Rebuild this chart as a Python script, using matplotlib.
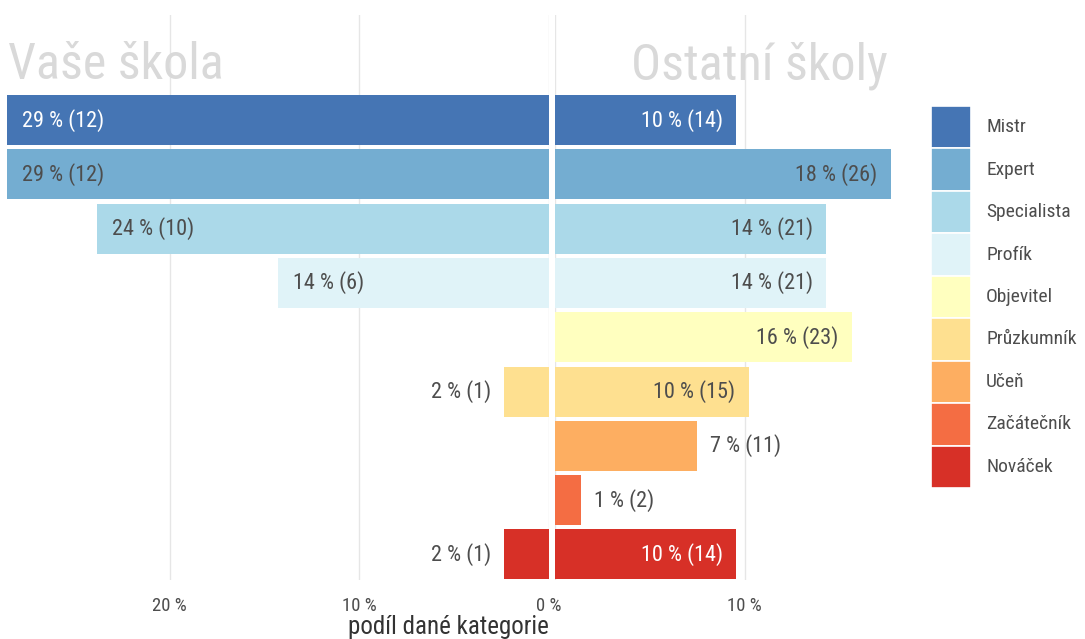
import matplotlib
matplotlib.use("Agg")
import matplotlib.pyplot as plt
from matplotlib import font_manager

names = {f.name for f in font_manager.fontManager.ttflist}
cands = ['Ubuntu Condensed', 'Roboto Condensed', 'Open Sans Condensed',
         'Liberation Sans Narrow', 'Liberation Sans']
MAIN = next(c for c in cands if c in names) if any(c in names for c in cands) else 'DejaVu Sans'
plt.rcParams['font.family'] = [MAIN, 'DejaVu Sans']

categories = ["Mistr", "Expert", "Specialista", "Profík", "Objevitel",
              "Průzkumník", "Učeň", "Začátečník", "Nováček"]
colors = ["#4575b4", "#74add1", "#abd9e9", "#e0f3f8", "#ffffbf",
          "#fee090", "#fdae61", "#f46d43", "#d73027"]
own_counts = [12, 12, 10, 6, 0, 1, 0, 0, 1]
other_counts = [14, 26, 21, 21, 23, 15, 11, 2, 14]
panel_titles = ["Vaše škola", "Ostatní školy"]
xlabel = "podíl dané kategorie"

W, H = 1085, 639
fig = plt.figure(figsize=(W / 100, H / 100), dpi=100)

def px_axes(x0, x1, ytop, ybot):
    return fig.add_axes([x0 / W, (H - ybot) / H, (x1 - x0) / W, (ybot - ytop) / H])

PXP = 18.97  # pixels per percent
axL = px_axes(5, 549, 15, 580)
axR = px_axes(555, 895, 15, 580)
axL.set_xlim(544 / PXP, 0)
axR.set_xlim(0, 340 / PXP)

dark = "#4d4d4d"
white_idx = {0, 8}
LFS = 16

def pct(counts):
    t = sum(counts)
    return [100 * c / t for c in counts]

for ax, counts, side in ((axL, own_counts, "L"), (axR, other_counts, "R")):
    vals = pct(counts)
    ax.set_ylim(8.47, -1.934)
    for sp in ax.spines.values():
        sp.set_visible(False)
    ax.set_yticks([])
    ax.tick_params(axis='x', length=0, labelsize=13.5, labelcolor=dark, pad=12)
    ax.set_axisbelow(True)
    ax.grid(axis='x', color="#e6e6e6", linewidth=1)
    for i, (c, v, n) in enumerate(zip(colors, vals, counts)):
        if n == 0:
            continue
        ax.barh(i, v, height=0.92, color=c, linewidth=0)
        lab = f"{round(v)} % ({n})"
        pad = 13 / PXP
        if side == "L":
            if v >= 12:
                ax.text(v - 15 / PXP, i, lab, ha='left', va='center', fontsize=LFS,
                        color="white" if i in white_idx else dark)
            else:
                ax.text(v + pad, i, lab, ha='right', va='center', fontsize=LFS, color=dark)
        else:
            if v >= 9:
                ax.text(v - pad, i, lab, ha='right', va='center', fontsize=LFS,
                        color="white" if i in white_idx else dark)
            else:
                ax.text(v + pad, i, lab, ha='left', va='center', fontsize=LFS, color=dark)

axL.set_xticks([20, 10, 0])
axL.set_xticklabels(["20 %", "10 %", "0 %"])
axR.set_xticks([0, 10])
axR.set_xticklabels(["", "10 %"])

fig.text(8 / W, (H - 79) / H, panel_titles[0], ha='left', va='baseline',
         fontsize=36, color="#d9d9d9")
fig.text(888 / W, (H - 79) / H, panel_titles[1], ha='right', va='baseline',
         fontsize=36, color="#d9d9d9")
fig.text(448 / W, (H - 627) / H, xlabel, ha='center', va='center',
         fontsize=18, color="#333333")

# legend drawn as a small axes of stacked keys
axLeg = px_axes(931, 1085, 106, 488)
axLeg.set_xlim(0, 154)
axLeg.set_ylim(len(categories), 0)
axLeg.axis('off')
key_y = [i + 0.5 for i in range(len(categories))]
axLeg.barh(key_y, [40] * len(categories), left=0, height=1.0, color=colors,
           edgecolor='white', linewidth=1.2)
for yk, name in zip(key_y, categories):
    axLeg.text(55, yk, name, ha='left', va='center', fontsize=14, color=dark)

fig.savefig("out.png", dpi=100)
